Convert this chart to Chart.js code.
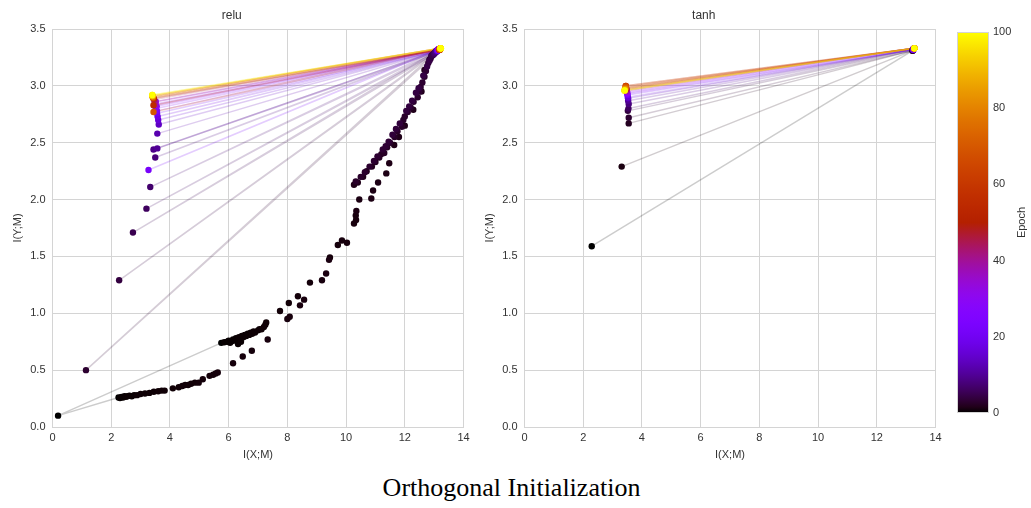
<!DOCTYPE html>
<html>
<head>
<meta charset="utf-8">
<script src="https://cdn.jsdelivr.net/npm/chart.js@4.4.1/dist/chart.umd.min.js"></script>
<style>
  body { margin: 0; background: #fff; width: 1031px; height: 508px; position: relative; overflow: hidden; }
  .panel { position: absolute; top: 0; }
  #relu-wrap { left: 0; }
  #tanh-wrap { left: 472px; }
  #cbar-wrap { left: 950px; }
  #suptitle {
    position: absolute; left: 0; width: 1023px; top: 473px; text-align: center;
    font-family: "Liberation Serif", "Times New Roman", serif; font-size: 26px; color: #000;
  }
</style>
</head>
<body>
<div class="panel" id="relu-wrap"><canvas id="chart-relu" width="476" height="470"></canvas></div>
<div class="panel" id="tanh-wrap"><canvas id="chart-tanh" width="476" height="470"></canvas></div>
<div class="panel" id="cbar-wrap"><canvas id="chart-cbar" width="81" height="470"></canvas></div>
<div id="suptitle">Orthogonal Initialization</div>
<script>
(function () {
  'use strict';

  // --- relu: logged epochs with a line through the layers ---
  const reluEpochs = [0, 3, 4, 5, 6, 7, 8, 9, 10, 12,
                      14, 16, 18, 20, 22, 24, 26, 28, 30, 33,
                      36, 40, 45, 50, 55, 60, 65, 70, 75, 80,
                      85, 90, 95, 100];
  // layer 1 (ends in the top-right corner)
  const reluL1X = [5.75, 12.98, 13.02, 13.05, 13.07, 13.08, 13.10, 13.10, 13.10, 13.12,
                   13.12, 13.13, 13.14, 13.15, 13.15, 13.15, 13.16, 13.16, 13.17, 13.17,
                   13.18, 13.18, 13.19, 13.20, 13.20, 13.20, 13.21, 13.21, 13.21, 13.22,
                   13.22, 13.22, 13.23, 13.23];
  const reluL1Y = [0.74, 3.28, 3.29, 3.30, 3.30, 3.31, 3.31, 3.31, 3.31, 3.31,
                   3.31, 3.31, 3.32, 3.32, 3.32, 3.32, 3.32, 3.32, 3.32, 3.32,
                   3.32, 3.32, 3.32, 3.32, 3.32, 3.32, 3.33, 3.33, 3.33, 3.33,
                   3.33, 3.33, 3.33, 3.33];
  // layer 2 (the column on the left)
  const reluL2X = [0.19, 1.14, 2.27, 2.74, 3.20, 3.33, 3.50, 3.44, 3.57, 3.57,
                   3.62, 3.60, 3.58, 3.56, 3.27, 3.56, 3.52, 3.55, 3.50, 3.52,
                   3.50, 3.48, 3.46, 3.45, 3.44, 3.43, 3.42, 3.44, 3.42, 3.41,
                   3.41, 3.40, 3.40, 3.40];
  const reluL2Y = [0.10, 0.50, 1.29, 1.71, 1.92, 2.11, 2.37, 2.44, 2.45, 2.58,
                   2.66, 2.70, 2.73, 2.76, 2.26, 2.78, 2.80, 2.82, 2.84, 2.86,
                   2.83, 2.86, 2.88, 2.89, 2.83, 2.89, 2.90, 2.77, 2.90, 2.91,
                   2.91, 2.91, 2.92, 2.92];
  // layer 3 (lower curve, ends in the top-right corner)
  const reluL3X = [2.25, 12.84, 12.90, 12.95, 13.00, 13.02, 13.05, 13.08, 13.08, 13.10,
                   13.10, 13.11, 13.12, 13.13, 13.13, 13.14, 13.14, 13.15, 13.15, 13.16,
                   13.16, 13.17, 13.17, 13.18, 13.18, 13.19, 13.19, 13.20, 13.20, 13.20,
                   13.21, 13.21, 13.21, 13.22];
  const reluL3Y = [0.26, 3.23, 3.26, 3.27, 3.28, 3.29, 3.30, 3.30, 3.31, 3.31,
                   3.31, 3.31, 3.31, 3.31, 3.32, 3.32, 3.32, 3.32, 3.32, 3.32,
                   3.32, 3.32, 3.32, 3.32, 3.32, 3.32, 3.32, 3.32, 3.33, 3.33,
                   3.33, 3.33, 3.33, 3.33];

  // --- relu: extra positions logged inside the first epochs (no lines) ---
  // lower part of the layer 1 path
  const reluTrailAX = [5.85, 5.95, 6.00, 6.05, 6.10, 6.15, 6.20, 6.25, 6.30, 6.32,
                       6.35, 6.40, 6.42, 6.45, 6.50, 6.55, 6.60, 6.65, 6.70, 6.75,
                       6.80, 6.85, 6.90, 7.00, 7.05, 7.12, 7.20, 7.25, 7.28, 7.75,
                       8.05, 8.36, 8.77, 9.45, 9.72, 9.86, 10.03, 10.27, 10.34, 10.33];
  const reluTrailAY = [0.745, 0.75, 0.76, 0.74, 0.755, 0.77, 0.76, 0.78, 0.77, 0.73,
                       0.79, 0.78, 0.75, 0.80, 0.79, 0.81, 0.80, 0.82, 0.81, 0.83,
                       0.82, 0.84, 0.83, 0.85, 0.86, 0.86, 0.88, 0.90, 0.92, 1.02,
                       1.09, 1.15, 1.27, 1.49, 1.60, 1.64, 1.62, 1.79, 1.82, 1.86];
  const reluTrailAE = [0.1, 0.1, 0.1, 0.1, 0.1, 0.1, 0.1, 0.1, 0.1, 0.1,
                       0.2, 0.2, 0.2, 0.2, 0.2, 0.2, 0.2, 0.2, 0.2, 0.2,
                       0.3, 0.3, 0.3, 0.3, 0.3, 0.4, 0.4, 0.4, 0.4, 0.5,
                       0.5, 0.6, 0.6, 0.7, 0.7, 0.8, 0.8, 0.9, 0.9, 0.9];
  // upper part of the layer 1 path (dense band)
  const reluTrailCX = [10.27, 10.40, 10.58, 10.70, 10.88, 11.00, 11.13, 11.20, 11.30, 11.40,
                       11.50, 11.65, 11.75, 11.90, 11.95, 12.00, 12.10, 12.20, 12.30, 12.44,
                       12.50, 12.54, 12.60, 12.67, 12.72, 12.80, 12.88, 12.95,
                       10.33, 10.50, 10.64, 10.80, 10.95, 11.07, 11.25, 11.35, 11.45, 11.58,
                       11.70, 11.83, 12.05, 12.15, 12.25, 12.38, 12.47, 12.63, 12.76, 12.84,
                       12.92];
  const reluTrailCY = [2.13, 2.15, 2.20, 2.25, 2.29, 2.33, 2.37, 2.40, 2.41, 2.46,
                       2.50, 2.55, 2.60, 2.64, 2.70, 2.73, 2.77, 2.81, 2.86, 2.90,
                       2.95, 2.99, 3.03, 3.08, 3.13, 3.20, 3.24, 3.27,
                       2.16, 2.20, 2.24, 2.29, 2.34, 2.38, 2.44, 2.47, 2.51, 2.57,
                       2.62, 2.67, 2.78, 2.82, 2.87, 2.94, 2.98, 3.09, 3.17, 3.22,
                       3.27];
  const reluTrailCE = [1.5, 1.6, 1.7, 1.8, 1.9, 2.0, 2.1, 2.2, 2.3, 2.4,
                       2.5, 2.5, 2.6, 2.6, 2.7, 2.7, 2.8, 2.8, 2.9, 2.9,
                       3.0, 3.0, 3.1, 3.1, 3.2, 3.2, 3.3, 3.4,
                       2.6, 2.7, 2.8, 2.9, 3.0, 3.1, 3.2, 3.3, 3.4, 3.5,
                       3.6, 3.7, 3.8, 3.9, 4.0, 4.1, 4.2, 4.3, 4.4, 4.5,
                       4.6];
  // layer 3 path
  const reluTrailBX = [2.30, 2.35, 2.40, 2.45, 2.50, 2.55, 2.62, 2.70, 2.78, 2.88,
                       3.00, 3.15, 3.30, 3.45, 3.60, 3.72, 3.82, 4.10, 4.30, 4.42,
                       4.52, 4.62, 4.72, 4.85, 4.98, 5.12, 5.35, 5.47, 5.56, 5.63,
                       6.15, 6.48, 6.79, 7.33, 8.00, 8.08, 8.43, 8.57, 9.18, 9.32,
                       9.42, 10.35, 10.45, 10.86, 10.92, 11.09, 11.37, 11.47, 11.64, 11.80,
                       12.00, 12.29, 12.57, 12.67];
  const reluTrailBY = [0.255, 0.265, 0.26, 0.27, 0.265, 0.27, 0.275, 0.27, 0.28, 0.28,
                       0.29, 0.295, 0.30, 0.31, 0.315, 0.32, 0.32, 0.34, 0.35, 0.36,
                       0.37, 0.37, 0.38, 0.39, 0.39, 0.42, 0.45, 0.46, 0.47, 0.48,
                       0.56, 0.62, 0.67, 0.77, 0.95, 0.97, 1.07, 1.12, 1.29, 1.35,
                       1.47, 1.90, 2.00, 2.01, 2.08, 2.15, 2.23, 2.32, 2.48, 2.55,
                       2.65, 2.79, 2.95, 3.14];
  const reluTrailBE = [0.1, 0.1, 0.1, 0.1, 0.2, 0.2, 0.2, 0.2, 0.2, 0.3,
                       0.3, 0.3, 0.3, 0.3, 0.4, 0.4, 0.4, 0.4, 0.4, 0.5,
                       0.5, 0.5, 0.5, 0.5, 0.6, 0.6, 0.6, 0.6, 0.6, 0.7,
                       0.7, 0.7, 0.7, 0.8, 0.8, 0.8, 0.9, 0.9, 0.9, 1.0,
                       1.0, 1.1, 1.1, 1.2, 1.2, 1.3, 1.3, 1.4, 1.4, 1.5,
                       1.5, 1.6, 1.7, 1.8];

  // --- tanh: logged epochs ---
  const tanhEpochs = [0, 1, 2, 3, 4, 6, 8, 10, 13, 16,
                      20, 25, 30, 35, 40, 45, 50, 55, 60, 65,
                      70, 75, 80, 85, 90, 95, 100];
  const tanhL1X = [13.22, 13.22, 13.22, 13.22, 13.22, 13.23, 13.23, 13.23, 13.24, 13.24,
                   13.25, 13.25, 13.26, 13.26, 13.27, 13.27, 13.27, 13.28, 13.28, 13.28,
                   13.28, 13.28, 13.28, 13.28, 13.28, 13.28, 13.28];
  const tanhL1Y = [3.31, 3.31, 3.31, 3.31, 3.31, 3.32, 3.32, 3.32, 3.32, 3.32,
                   3.32, 3.32, 3.33, 3.33, 3.33, 3.33, 3.33, 3.33, 3.33, 3.33,
                   3.33, 3.33, 3.33, 3.33, 3.33, 3.33, 3.33];
  const tanhL2X = [2.29, 3.31, 3.55, 3.55, 3.52, 3.54, 3.55, 3.53, 3.53, 3.52,
                   3.51, 3.50, 3.50, 3.49, 3.48, 3.47, 3.46, 3.46, 3.45, 3.45,
                   3.45, 3.44, 3.43, 3.42, 3.41, 3.41, 3.41];
  const tanhL2Y = [1.59, 2.29, 2.67, 2.72, 2.78, 2.80, 2.84, 2.87, 2.89, 2.90,
                   2.92, 2.93, 2.94, 2.95, 2.96, 2.97, 2.98, 2.99, 3.00, 3.00,
                   2.99, 2.98, 2.97, 2.97, 2.96, 2.96, 2.96];

  // --- colour bar ticks ---
  const cbarTicks = [0, 20, 40, 60, 80, 100];
  const EPOCH_MAX = 100;

  const TEXT = '#333333';
  const GRID = '#d4d4d4';
  const LINE_ALPHA = 0.2;

  // matplotlib "gnuplot" colormap
  function gnuplot(t, a) {
    t = Math.min(1, Math.max(0, t));
    const r = Math.sqrt(t);
    const g = t * t * t;
    const b = Math.max(0, Math.sin(2 * Math.PI * t));
    return 'rgba(' + Math.round(r * 255) + ',' + Math.round(g * 255) + ',' +
      Math.round(b * 255) + ',' + a + ')';
  }

  function panelDatasets(epochs, layers, trails) {
    const sets = [];
    epochs.forEach((e, i) => {
      sets.push({
        data: layers.map(l => ({ x: l.x[i], y: l.y[i] })),
        showLine: true,
        pointRadius: 0,
        borderWidth: 1.5,
        borderColor: gnuplot(e / EPOCH_MAX, LINE_ALPHA),
        order: 1 + epochs.length - i,
      });
    });
    const pts = [];
    epochs.forEach((e, i) => layers.forEach(l => pts.push({ x: l.x[i], y: l.y[i], e: e })));
    trails.forEach(t => t.e.forEach((e, i) => pts.push({ x: t.x[i], y: t.y[i], e: e })));
    pts.sort((a, b) => a.e - b.e);
    sets.push({
      data: pts,
      pointRadius: 3.2,
      pointBorderWidth: 0,
      pointBackgroundColor: pts.map(p => gnuplot(p.e / EPOCH_MAX, 1)),
      order: 0,
    });
    return sets;
  }

  function panelOptions(title) {
    return {
      responsive: false,
      animation: false,
      layout: { padding: { left: 0, right: 12.5, top: 0.6, bottom: 0 } },
      plugins: {
        legend: { display: false },
        tooltip: { enabled: false },
        title: {
          display: true, text: title, color: TEXT,
          font: { family: 'Liberation Sans', size: 12, weight: 'normal' },
          padding: { top: 8, bottom: 6 },
        },
      },
      scales: {
        x: {
          type: 'linear', min: 0, max: 14,
          ticks: { stepSize: 2, color: TEXT, padding: 4, font: { family: 'Liberation Sans', size: 11 } },
          grid: { color: GRID, drawTicks: false },
          border: { color: GRID },
          title: {
            display: true, text: 'I(X;M)', color: TEXT,
            font: { family: 'Liberation Sans', size: 11 }, padding: { top: 0, bottom: 8 },
          },
          afterFit: s => { s.height = 43; },
        },
        y: {
          type: 'linear', min: 0, max: 3.5,
          ticks: {
            stepSize: 0.5, color: TEXT, padding: 7,
            font: { family: 'Liberation Sans', size: 11 },
            callback: v => v.toFixed(1),
          },
          grid: { color: GRID, drawTicks: false },
          border: { color: GRID },
          title: {
            display: true, text: 'I(Y;M)', color: TEXT,
            font: { family: 'Liberation Sans', size: 11 }, padding: { top: 11, bottom: 0 },
          },
          afterFit: s => { s.width = 52.5; },
        },
      },
    };
  }

  new Chart(document.getElementById('chart-relu'), {
    type: 'scatter',
    data: {
      datasets: panelDatasets(reluEpochs,
        [{ x: reluL1X, y: reluL1Y }, { x: reluL2X, y: reluL2Y }, { x: reluL3X, y: reluL3Y }],
        [{ x: reluTrailAX, y: reluTrailAY, e: reluTrailAE },
         { x: reluTrailBX, y: reluTrailBY, e: reluTrailBE },
         { x: reluTrailCX, y: reluTrailCY, e: reluTrailCE }]),
    },
    options: panelOptions('relu'),
  });

  new Chart(document.getElementById('chart-tanh'), {
    type: 'scatter',
    data: {
      datasets: panelDatasets(tanhEpochs,
        [{ x: tanhL1X, y: tanhL1Y }, { x: tanhL2X, y: tanhL2Y }], []),
    },
    options: panelOptions('tanh'),
  });

  // --- colour bar: gradient box plus its own Epoch scale ---
  const colorbarPlugin = {
    id: 'colorbar',
    beforeDatasetsDraw(chart) {
      const a = chart.chartArea;
      const ctx = chart.ctx;
      const grad = ctx.createLinearGradient(0, a.bottom, 0, a.top);
      for (let i = 0; i <= 64; i++) grad.addColorStop(i / 64, gnuplot(i / 64, 1));
      ctx.save();
      ctx.fillStyle = grad;
      ctx.fillRect(a.left, a.top, a.right - a.left, a.bottom - a.top);
      ctx.strokeStyle = GRID;
      ctx.lineWidth = 1;
      ctx.strokeRect(a.left + 0.5, a.top + 0.5, a.right - a.left - 1, a.bottom - a.top - 1);
      ctx.translate(72, (a.top + a.bottom) / 2);
      ctx.rotate(-Math.PI / 2);
      ctx.fillStyle = TEXT;
      ctx.font = '11px "Liberation Sans"';
      ctx.textAlign = 'center';
      ctx.textBaseline = 'middle';
      ctx.fillText('Epoch', 0, 0);
      ctx.restore();
    },
  };

  new Chart(document.getElementById('chart-cbar'), {
    type: 'scatter',
    data: { datasets: [] },
    options: {
      responsive: false,
      animation: false,
      layout: { padding: { left: 7, right: 0, top: 32, bottom: 57 } },
      plugins: { legend: { display: false }, tooltip: { enabled: false } },
      scales: {
        x: { display: false, min: 0, max: 1 },
        y: {
          position: 'right', min: cbarTicks[0], max: cbarTicks[cbarTicks.length - 1],
          afterBuildTicks: s => { s.ticks = cbarTicks.map(v => ({ value: v })); },
          ticks: { color: TEXT, padding: 4, font: { family: 'Liberation Sans', size: 11 } },
          grid: { display: false, drawTicks: false },
          border: { display: false },
          afterFit: s => { s.width = 42; },
        },
      },
    },
    plugins: [colorbarPlugin],
  });
})();
</script>
</body>
</html>
